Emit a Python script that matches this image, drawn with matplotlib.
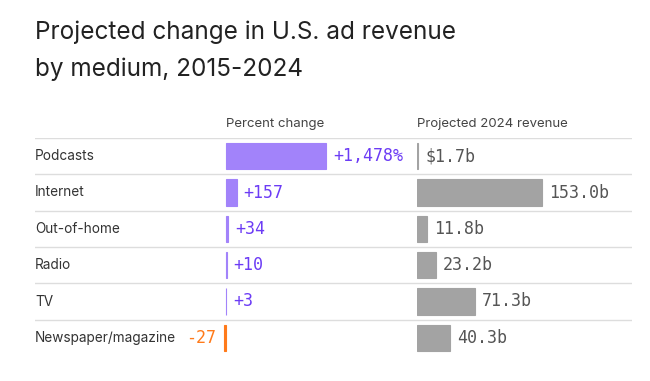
import matplotlib
matplotlib.use("Agg")
import matplotlib.pyplot as plt
import numpy as np

# data
media = ["Podcasts", "Internet", "Out-of-home", "Radio", "TV", "Newspaper/magazine"]
pct_change = [1478, 157, 34, 10, 3, -27]
pct_labels = ["+1,478%", "+157", "+34", "+10", "+3", "-27"]
revenue_2024 = [1.7, 153.0, 11.8, 23.2, 71.3, 40.3]
revenue_labels = ["$1.7b", "153.0b", "11.8b", "23.2b", "71.3b", "40.3b"]

purple_bar = "#a283fa"
purple_txt = "#6c3cf5"
orange = "#ff7a1a"
gray_bar = "#a3a3a3"
gray_txt = "#555555"

plt.rcParams["font.family"] = ["Inter", "DejaVu Sans"]

W, H = 650, 381
fig = plt.figure(figsize=(W / 100, H / 100), dpi=100)

fig.text(35 / W, 1 - 21 / H, "Projected change in U.S. ad revenue\nby medium, 2015-2024",
         ha="left", va="top", fontsize=17.5, color="#222222", linespacing=1.68)

y = np.arange(len(media))
bottom = (H - 356) / H
height = (356 - 138) / H

# background table: separators + row labels
ax0 = fig.add_axes([35 / W, bottom, 597 / W, height])
ax0.set_xlim(0, 1)
ax0.set_ylim(len(media) - 0.5, -0.5)
ax0.axis("off")
for i in range(len(media)):
    ax0.axhline(i - 0.5, color="#dddddd", lw=1)
    ax0.text(0, i, media[i], ha="left", va="center", fontsize=9.8, color="#333333")

# percent change column
ax1 = fig.add_axes([226 / W, bottom, 180 / W, height])
ax1.set_xlim(0, 180 / 0.0677)
ax1.set_ylim(len(media) - 0.5, -0.5)
ax1.axis("off")
cols = [purple_bar if v >= 0 else orange for v in pct_change]
ax1.barh(y, pct_change, height=0.72, color=cols, edgecolor=cols, lw=0.8, clip_on=False)
for i, v in enumerate(pct_change):
    if v >= 0:
        ax1.annotate(pct_labels[i], (v, i), xytext=(5, 0), textcoords="offset points",
                     ha="left", va="center", fontsize=12, family="DejaVu Sans Mono",
                     color=purple_txt)
    else:
        ax1.annotate(pct_labels[i], (v, i), xytext=(-6, 0), textcoords="offset points",
                     ha="right", va="center", fontsize=12, family="DejaVu Sans Mono",
                     color=orange, annotation_clip=False)
ax1.text(0, -0.72, "Percent change", ha="left", va="bottom", fontsize=9.5, color="#444444")

# projected revenue column
ax2 = fig.add_axes([417 / W, bottom, 215 / W, height])
ax2.set_xlim(0, 215 / 0.817)
ax2.set_ylim(len(media) - 0.5, -0.5)
ax2.axis("off")
ax2.barh(y, revenue_2024, height=0.72, color=gray_bar, edgecolor=gray_bar, lw=0.8)
for i, v in enumerate(revenue_2024):
    ax2.annotate(revenue_labels[i], (v, i), xytext=(5, 0), textcoords="offset points",
                 ha="left", va="center", fontsize=12, family="DejaVu Sans Mono",
                 color=gray_txt)
ax2.text(0, -0.72, "Projected 2024 revenue", ha="left", va="bottom", fontsize=9.5, color="#444444")

fig.savefig("out.png", dpi=100, facecolor="white")
